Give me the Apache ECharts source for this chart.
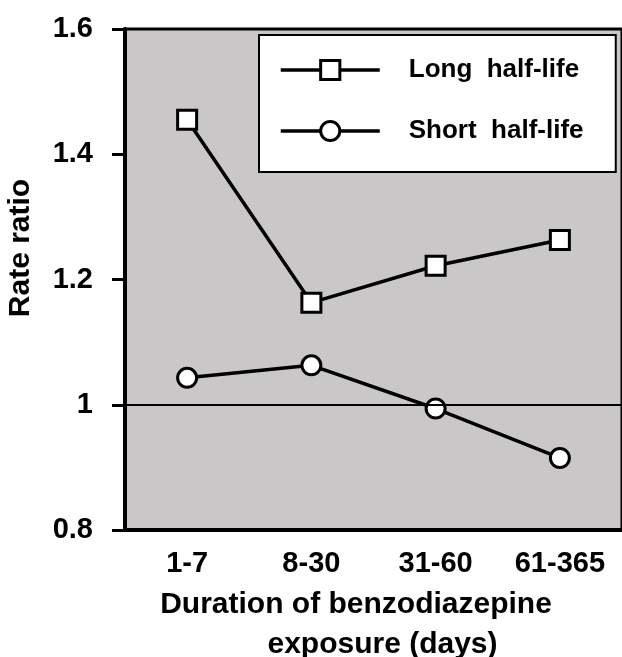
<!DOCTYPE html>
<html>
<head>
<meta charset="utf-8">
<script src="https://cdn.jsdelivr.net/npm/echarts@6/dist/echarts.min.js"></script>
<style>
html,body{margin:0;padding:0;background:#fff;}
#chart{width:622px;height:657px;}
</style>
</head>
<body>
<div id="chart"></div>
<script>
const categories = ['1-7', '8-30', '31-60', '61-365'];
const longHalfLife = [1.455, 1.163, 1.222, 1.263];
const shortHalfLife = [1.043, 1.063, 0.994, 0.915];
const seriesNames = ['Long  half-life', 'Short  half-life'];
const yMin = 0.8, yMax = 1.6, yStep = 0.2;
const referenceValue = 1;
const yTitle = 'Rate ratio';
const xTitleLines = ['Duration of benzodiazepine', 'exposure (days)'];

const FONT = '"Liberation Sans", Arial, sans-serif';
const chart = echarts.init(document.getElementById('chart'), null, {renderer: 'canvas'});

function markerSeries(name, data, symbol, extra) {
  return Object.assign({
    name: name,
    type: 'line',
    data: data,
    symbol: symbol,
    symbolSize: 19,
    showAllSymbol: true,
    lineStyle: {color: '#000', width: 3.5},
    itemStyle: {color: '#fff', borderColor: '#000', borderWidth: 3},
    emphasis: {disabled: true},
    animation: false
  }, extra || {});
}

chart.setOption({
  animation: false,
  grid: {
    left: 125, top: 29, bottom: 127, right: -4.3,
    show: true, backgroundColor: '#c9c7c8',
    borderColor: '#000', borderWidth: 3
  },
  legend: {
    orient: 'vertical',
    left: 259, top: 35,
    padding: [22, 17, 28, 20],
    itemWidth: 99, itemHeight: 24, itemGap: 35,
    backgroundColor: '#fff', borderColor: '#000', borderWidth: 2,
    borderRadius: 0,
    selectedMode: false,
    itemStyle: {color: '#fff', borderColor: '#000', borderWidth: 3},
    lineStyle: {color: '#000', width: 3.5},
    textStyle: {
      fontFamily: FONT, fontWeight: 'bold', fontSize: 26, color: '#000',
      width: 190, lineHeight: 24, padding: [0, 0, 0, 24]
    },
    data: seriesNames
  },
  xAxis: {
    type: 'category',
    data: categories,
    boundaryGap: true,
    axisLine: {lineStyle: {color: '#000', width: 4}},
    axisTick: {alignWithLabel: true, length: 13, lineStyle: {color: '#000', width: 3}},
    axisLabel: {margin: 19, fontFamily: FONT, fontWeight: 'bold', fontSize: 29, color: '#000'},
    splitLine: {show: false}
  },
  yAxis: {
    type: 'value',
    min: yMin, max: yMax, interval: yStep,
    axisLine: {show: true, lineStyle: {color: '#000', width: 4}},
    axisTick: {show: true, length: 13, lineStyle: {color: '#000', width: 3}},
    axisLabel: {margin: 32, fontFamily: FONT, fontWeight: 'bold', fontSize: 29, color: '#000'},
    splitLine: {show: false}
  },
  graphic: [
    {type: 'text', x: 21, y: 248, rotation: Math.PI / 2,
     style: {text: yTitle, font: 'bold 30px ' + FONT, fill: '#000', align: 'center', verticalAlign: 'middle'}},
    {type: 'text', x: 356, y: 604.6,
     style: {text: xTitleLines[0], font: 'bold 30px ' + FONT, fill: '#000', align: 'center', verticalAlign: 'middle'}},
    {type: 'text', x: 382.5, y: 644.6,
     style: {text: xTitleLines[1], font: 'bold 30px ' + FONT, fill: '#000', align: 'center', verticalAlign: 'middle'}}
  ],
  series: [
    markerSeries(seriesNames[0], longHalfLife, 'rect', {
      z: 3,
      markLine: {
        silent: true, symbol: 'none', label: {show: false},
        lineStyle: {color: '#000', width: 2, type: 'solid'},
        data: [{yAxis: referenceValue}],
        animation: false
      }
    }),
    markerSeries(seriesNames[1], shortHalfLife, 'circle', {z: 4})
  ]
});
</script>
</body>
</html>
